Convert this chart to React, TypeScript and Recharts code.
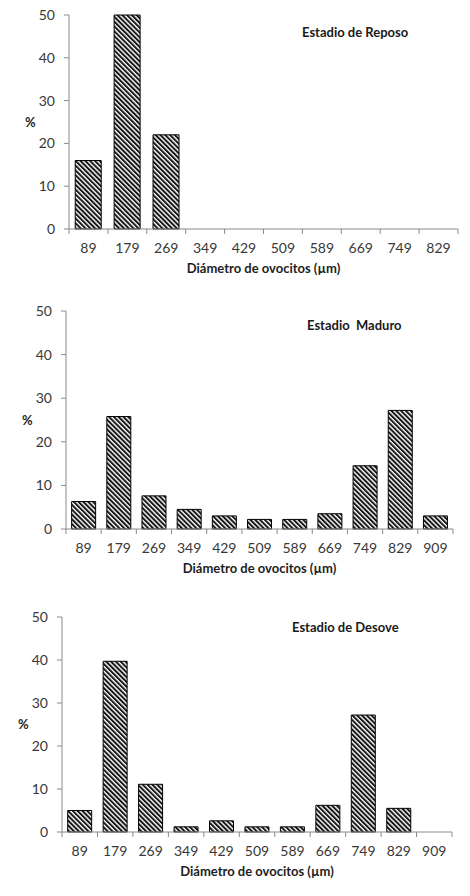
import { BarChart, Bar, XAxis, YAxis } from 'recharts';

// Diámetro de ovocitos (µm) — clases
const clases10 = ['89', '179', '269', '349', '429', '509', '589', '669', '749', '829'];
const clases11 = ['89', '179', '269', '349', '429', '509', '589', '669', '749', '829', '909'];

// % por clase
const reposo = [16, 50, 22, 0, 0, 0, 0, 0, 0, 0];
const maduro = [6.3, 25.8, 7.6, 4.5, 3.0, 2.2, 2.2, 3.5, 14.5, 27.2, 3.0];
const desove = [5.0, 39.7, 11.1, 1.2, 2.6, 1.2, 1.2, 6.2, 27.2, 5.5, 0];

const yTicks = [0, 10, 20, 30, 40, 50];

const FONT = 'Lato, "Open Sans", sans-serif';
const AXIS = '#8a8a8a';
const TXT = '#383838';

function toRows(cats: string[], vals: number[]) {
  return cats.map((c, i) => ({ clase: c, pct: vals[i] }));
}

function CatTick(props: any) {
  const { x, y, payload, index, visibleTicksCount } = props;
  const half = payload?.offset ?? 0;
  return (
    <g>
      <line x1={x - half} x2={x - half} y1={y} y2={y + 5} stroke={AXIS} />
      {index === visibleTicksCount - 1 && <line x1={x + half} x2={x + half} y1={y} y2={y + 5} stroke={AXIS} />}
      <text x={x} y={y + 23.5} textAnchor="middle" fill={TXT} fontSize={14} fontFamily={FONT}>
        {payload.value}
      </text>
    </g>
  );
}

interface PanelProps {
  id: string;
  title: string;
  cats: string[];
  vals: number[];
  height: number;
  margin: { top: number; right: number; bottom: number; left: number };
  yWidth: number;
  pctX: number;
  titleX: number;
  titleY: number;
}

function Panel({ id, title, cats, vals, height, margin, yWidth, pctX, titleX, titleY }: PanelProps) {
  const data = toRows(cats, vals);
  return (
    <div style={{ position: 'relative', width: 470, height }}>
      <BarChart width={470} height={height} data={data} margin={margin} barCategoryGap="16%">
        <defs>
          <pattern id={id} patternUnits="userSpaceOnUse" width={3.4} height={3.4} patternTransform="rotate(-45)">
            <rect width={3.4} height={3.4} fill="#ffffff" />
            <rect width={2} height={3.4} fill="#161616" />
          </pattern>
        </defs>
        <XAxis
          dataKey="clase"
          height={44}
          stroke={AXIS}
          tickLine={false}
          tickSize={0}
          tickMargin={0}
          interval={0}
          tick={<CatTick />}
          label={{
            value: 'Diámetro de ovocitos (µm)',
            position: 'insideBottom',
            offset: 0,
            fill: '#1e1e1e',
            fontSize: 13,
            fontWeight: 700,
            fontFamily: FONT,
          }}
        />
        <YAxis
          width={yWidth}
          domain={[0, 50]}
          ticks={yTicks}
          interval={0}
          stroke={AXIS}
          tickSize={5}
          tickMargin={9}
          tick={{ fill: TXT, fontSize: 14, fontFamily: FONT }}
          label={{
            value: '%',
            position: 'insideLeft',
            offset: pctX,
            fill: '#1e1e1e',
            fontSize: 13,
            fontWeight: 700,
            fontFamily: FONT,
          }}
        />
        <Bar dataKey="pct" fill={`url(#${id})`} stroke="#000" strokeWidth={1} isAnimationActive={false} />
      </BarChart>
      <div
        style={{
          position: 'absolute',
          left: titleX,
          top: titleY,
          fontFamily: FONT,
          fontSize: 13,
          fontWeight: 700,
          lineHeight: '16px',
          color: '#1a1a1a',
          whiteSpace: 'pre',
        }}
      >
        {title}
      </div>
    </div>
  );
}

export default function App() {
  return (
    <div style={{ position: 'absolute', left: 0, top: 0, width: 470, height: 896, background: '#fff' }}>
      <Panel
        id="hatch1"
        title="Estadio de Reposo"
        cats={clases10}
        vals={reposo}
        height={290}
        margin={{ top: 15, right: 12, bottom: 17, left: 0 }}
        yWidth={69}
        pctX={25}
        titleX={302}
        titleY={24}
      />
      <Panel
        id="hatch2"
        title="Estadio  Maduro"
        cats={clases11}
        vals={maduro}
        height={310}
        margin={{ top: 21, right: 17, bottom: 27, left: 0 }}
        yWidth={66}
        pctX={22}
        titleX={307}
        titleY={27}
      />
      <Panel
        id="hatch3"
        title="Estadio de Desove"
        cats={clases11}
        vals={desove}
        height={296}
        margin={{ top: 17, right: 18, bottom: 20, left: 0 }}
        yWidth={62}
        pctX={18}
        titleX={292}
        titleY={19}
      />
    </div>
  );
}
